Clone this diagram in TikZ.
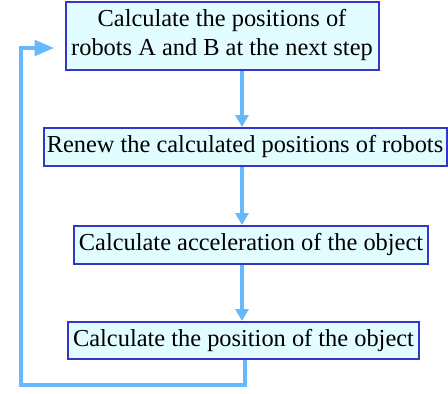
\documentclass[tikz,border=0pt]{standalone}
\usepackage{fontspec}
\setmainfont{Liberation Serif}
\usetikzlibrary{arrows.meta}
\definecolor{boxfill}{HTML}{E2FDFF}
\definecolor{boxline}{HTML}{3535C8}
\definecolor{flow}{HTML}{66B8FF}
\begin{document}
\begin{tikzpicture}[x=1pt,y=-1pt,
  stepbox/.style={draw=boxline,fill=boxfill,line width=2pt,inner sep=0pt,
    align=center,font=\fontsize{24.4}{29}\selectfont},
  flowline/.style={draw=flow,line width=4.5pt,-{Triangle[length=12pt,width=13pt]}}]
\useasboundingbox (0,0) rectangle (448,394);
\node[stepbox,minimum width=313pt,minimum height=68pt] (s1) at (222,35.5)
  {Calculate the positions of\\robots A and B at the next step};
\node[stepbox,minimum width=403pt,minimum height=38pt] (s2) at (245,147)
  {Renew the calculated positions of robots};
\node[stepbox,minimum width=354pt,minimum height=38pt] (s3) at (251,245)
  {Calculate acceleration of the object};
\node[stepbox,minimum width=351pt,minimum height=37pt] (s4) at (243.5,340.5)
  {Calculate the position of the object};
\coordinate (c1) at (245,385);
\coordinate (c2) at (21,385);
\coordinate (c3) at (21,48);
\draw[flowline] (s1.south -| 242,0) -- (s2.north -| 242,0);
\draw[flowline] (s2.south -| 242,0) -- (s3.north -| 242,0);
\draw[flowline] (s3.south -| 242,0) -- (s4.north -| 242,0);
\draw[flowline,line join=miter,-{Triangle[length=20pt,width=15pt]}]
  (s4.south -| c1) -- (c1) -- (c2) -- (c3) -- ([xshift=-10pt]s1.west |- c3);
\end{tikzpicture}
\end{document}
